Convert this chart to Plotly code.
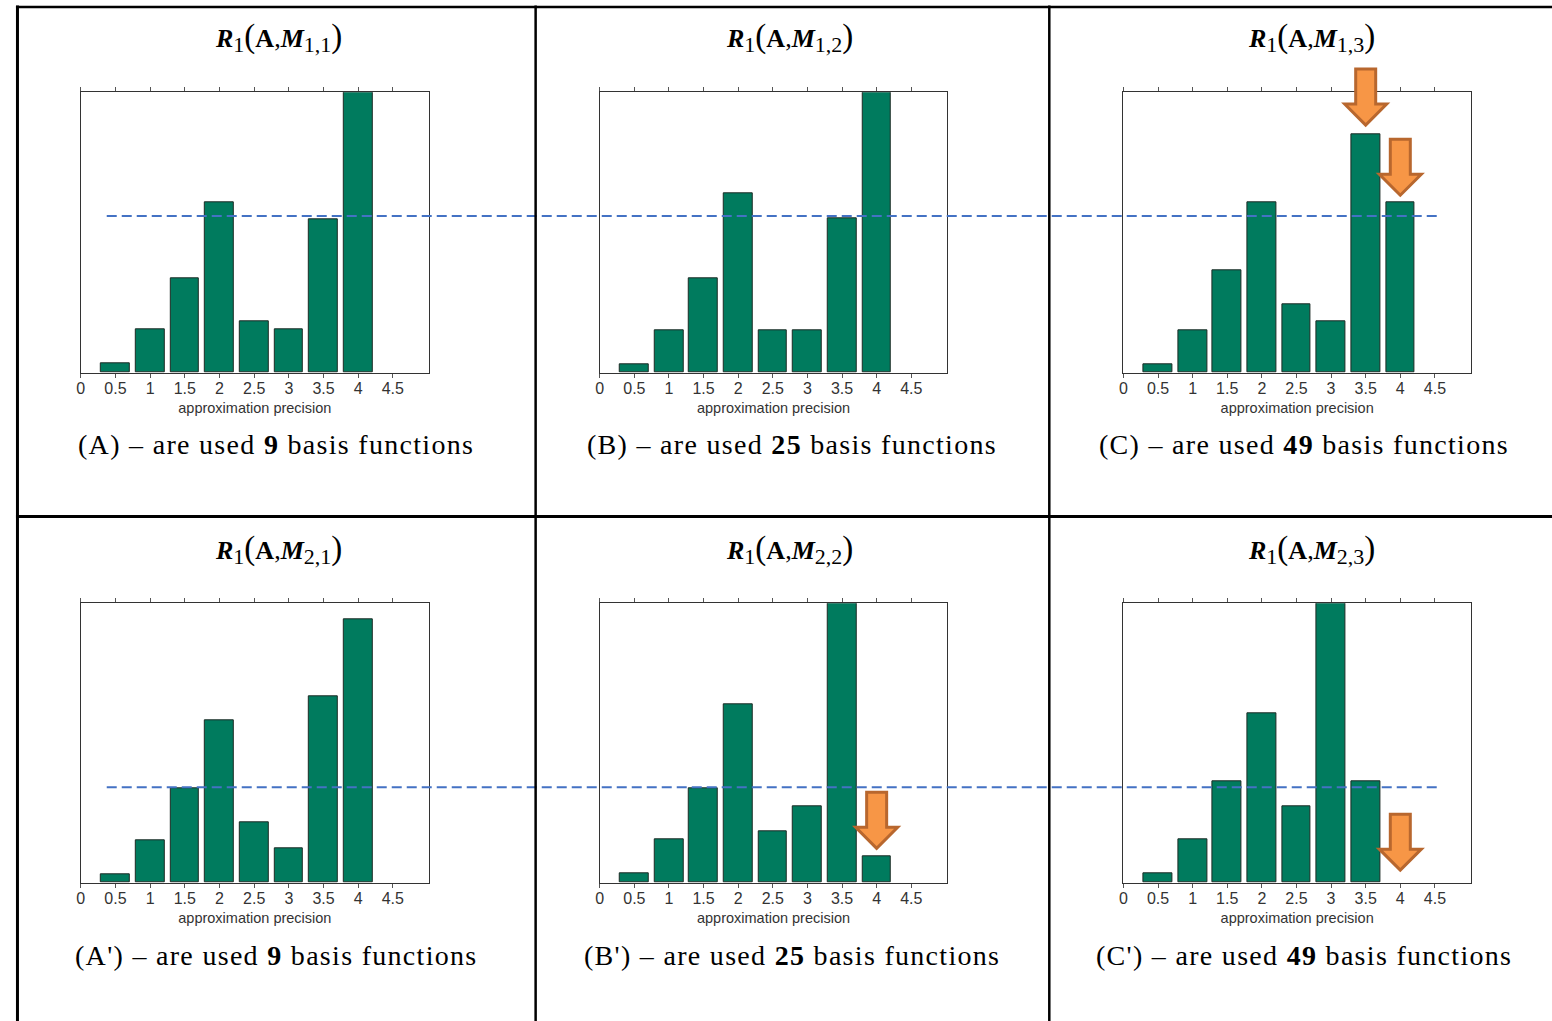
import plotly.graph_objects as go

W, H = 1552, 1021

# ---------------- data ----------------
x_positions = [0.5, 1.0, 1.5, 2.0, 2.5, 3.0, 3.5, 4.0]
tick_values = [0, 0.5, 1, 1.5, 2, 2.5, 3, 3.5, 4, 4.5]
tick_labels = ["0", "0.5", "1", "1.5", "2", "2.5", "3", "3.5", "4", "4.5"]

vals_A = [0.032, 0.155, 0.336, 0.607, 0.183, 0.155, 0.548, 1.0]
vals_B = [0.030, 0.152, 0.336, 0.641, 0.152, 0.152, 0.550, 1.0]
vals_C = [0.030, 0.152, 0.366, 0.609, 0.245, 0.184, 0.851, 0.609]
vals_A2 = [0.031, 0.153, 0.339, 0.582, 0.217, 0.124, 0.668, 0.944]
vals_B2 = [0.032, 0.155, 0.337, 0.640, 0.183, 0.274, 1.0, 0.093]
vals_C2 = [0.032, 0.155, 0.364, 0.607, 0.274, 1.0, 0.364, 0.0]

panel_letters = ["A", "B", "C", "A'", "B'", "C'"]
panel_subscripts = ["1,1", "1,2", "1,3", "2,1", "2,2", "2,3"]
basis_counts = [9, 25, 49, 9, 25, 49]

threshold_row1 = 0.559
threshold_row2 = 0.342

arrow_panel = [2, 2, 4, 5]
arrow_x = [3.5, 4.0, 4.0, 4.0]
arrow_tip = [0.883, 0.633, 0.123, 0.045]

x_axis_title = "approximation precision"

# ---------------- layout geometry (pixels) ----------------
col_px = [(77.0, 426.0), (597.3, 945.7), (1122.3, 1470.7)]
row_px = [(92.3, 372.7), (603.3, 882.7)]
title_cx = [275, 788, 1311]
caption_cx = [273, 790, 1303]
title_cy = [38, 549]
caption_cy = [444, 955]
X_MAX = 5.02

all_vals = [vals_A, vals_B, vals_C, vals_A2, vals_B2, vals_C2]

fig = go.Figure()
layout = dict(
    width=W, height=H,
    margin=dict(l=0, r=0, t=0, b=0),
    paper_bgcolor="white", plot_bgcolor="white",
    showlegend=False,
    bargap=0,
)

serif = "Liberation Serif, Times New Roman, serif"
sans = "Liberation Sans, Arial, sans-serif"

annotations = []
shapes = []

for i in range(6):
    r, c = divmod(i, 3)
    n = "" if i == 0 else str(i + 1)
    x0, x1 = col_px[c]
    y0, y1 = row_px[r]
    bx = [x for x, v in zip(x_positions, all_vals[i]) if v > 0]
    by = [v for v in all_vals[i] if v > 0]
    fig.add_trace(go.Bar(
        x=bx, y=by, width=0.415,
        marker=dict(color="#007B5E", line=dict(color="#1D2B25", width=1)),
        xaxis="x" + n, yaxis="y" + n, hoverinfo="skip",
    ))
    layout["xaxis" + n] = dict(
        domain=[x0 / W, x1 / W], range=[0, X_MAX], anchor="y" + n,
        tickmode="array", tickvals=tick_values, ticktext=tick_labels,
        ticks="outside", ticklen=4, tickwidth=1, tickcolor="#555",
        ticklabelstandoff=-3,
        showline=True, linecolor="#333", linewidth=1, mirror="ticks",
        showgrid=False, zeroline=False,
        tickfont=dict(family=sans, size=16, color="#333"),
        title=dict(text=x_axis_title, font=dict(family=sans, size=14.5, color="#333"), standoff=6),
    )
    layout["yaxis" + n] = dict(
        domain=[1 - y1 / H, 1 - y0 / H], range=[0, 1], anchor="x" + n,
        showticklabels=False, ticks="", showline=True, linecolor="#333",
        linewidth=1, mirror=True, showgrid=False, zeroline=False,
    )
    # title
    big = "font-size:33px"
    sub = "font-size:22px"
    title = (f"<b><i>R</i></b><sub><span style='{sub}'>1</span></sub><span style='{big}'>(</span><b>A</b>,"
             f"<b><i>M</i></b><sub><span style='{sub}'>{panel_subscripts[i]}</span></sub><span style='{big}'>)</span>")
    annotations.append(dict(
        text=title, xref="paper", yref="paper",
        x=title_cx[c] / W, y=1 - title_cy[r] / H, xanchor="center", yanchor="middle",
        showarrow=False, font=dict(family=serif, size=26, color="black"),
    ))
    cap = (f"<span style='letter-spacing:1.3px'>({panel_letters[i]}) – are used "
           f"<b>{basis_counts[i]}</b> basis functions</span>")
    annotations.append(dict(
        text=cap, xref="paper", yref="paper",
        x=caption_cx[c] / W, y=1 - caption_cy[r] / H, xanchor="center", yanchor="middle",
        showarrow=False, font=dict(family=serif, size=28, color="black"),
    ))

# dashed threshold lines
for yref, thr in (("y domain", threshold_row1), ("y4 domain", threshold_row2)):
    shapes.append(dict(
        type="line", xref="paper", yref=yref,
        x0=103 / W, x1=1439 / W, y0=thr, y1=thr,
        line=dict(color="#4472C4", width=2, dash="10px,5px"), layer="above",
    ))

# arrows
arrow_path = "M0,0 L-21,21 L-10,21 L-10,56 L10,56 L10,21 L21,21 Z"
for p, ax, at in zip(arrow_panel, arrow_x, arrow_tip):
    n = "" if p == 0 else str(p + 1)
    shapes.append(dict(
        type="path", xref="x" + n + " domain", yref="y" + n + " domain",
        xsizemode="pixel", ysizemode="pixel",
        xanchor=ax / X_MAX, yanchor=at,
        path=arrow_path,
        fillcolor="#F79646", line=dict(color="#B8672E", width=3), layer="above",
    ))

# table borders
def hline(py, w):
    return dict(type="line", xref="paper", yref="paper", x0=12 / W, x1=1.0,
                y0=1 - py / H, y1=1 - py / H, line=dict(color="black", width=w))

def vline(px, w):
    return dict(type="line", xref="paper", yref="paper", x0=px / W, x1=px / W,
                y0=1 - 5.5 / H, y1=0, line=dict(color="black", width=w))

shapes += [hline(7, 2.5), hline(516.5, 3), vline(13.5, 3), vline(533, 2.5), vline(1048, 2.5)]

layout["annotations"] = annotations
layout["shapes"] = shapes
fig.update_layout(**layout)
fig.write_html(
    "out.html",
    config=dict(displayModeBar=False),
    post_script="document.body.style.margin='0';document.body.style.overflow='hidden';",
)
